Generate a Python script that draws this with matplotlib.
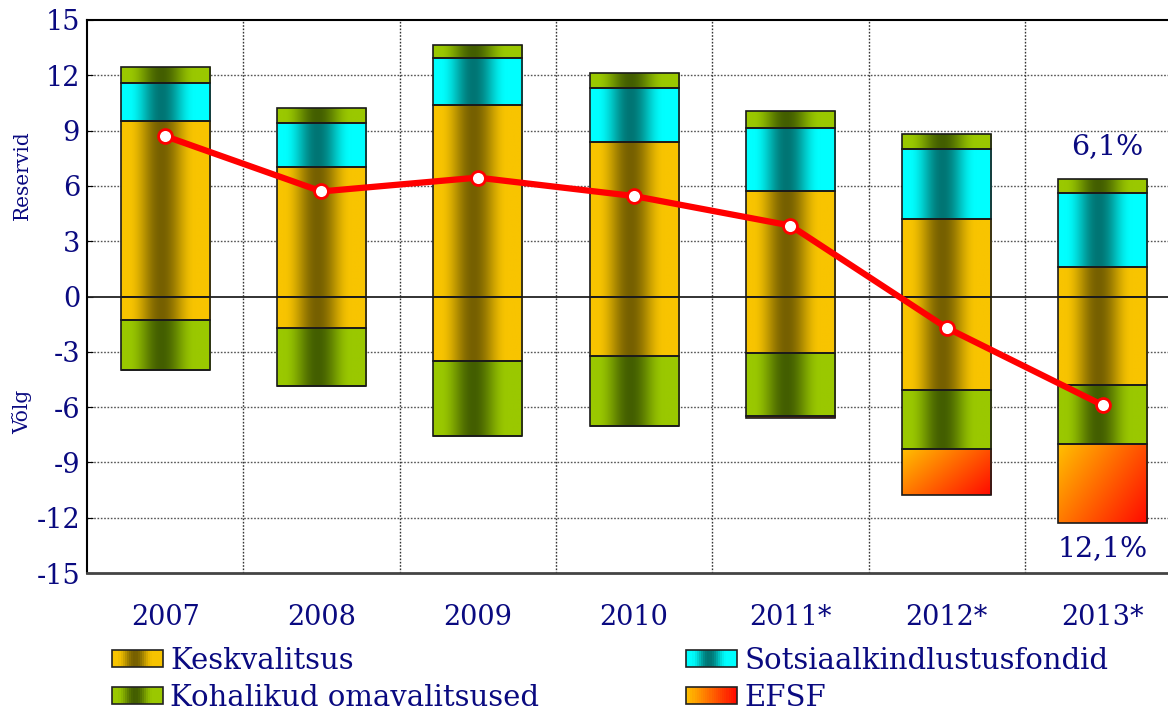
import numpy as np
import matplotlib
matplotlib.use("Agg")
import matplotlib.pyplot as plt
from matplotlib.patches import Rectangle
from matplotlib.legend_handler import HandlerBase
from matplotlib.colors import to_rgb

plt.rcParams['font.family'] = ['DejaVu Serif']

years = ["2007", "2008", "2009", "2010", "2011*", "2012*", "2013*"]
kesk_pos = [9.5, 7.05, 10.4, 8.4, 5.75, 4.2, 1.6]
sots = [2.1, 2.35, 2.55, 2.9, 3.4, 3.8, 4.0]
koh_pos = [0.85, 0.8, 0.7, 0.85, 0.9, 0.8, 0.8]
kesk_neg = [-1.3, -1.7, -3.5, -3.25, -3.05, -5.05, -4.8]
koh_neg = [-2.7, -3.15, -4.05, -3.8, -3.45, -3.2, -3.2]
efsf = [0, 0, 0, 0, -0.1, -2.5, -4.3]
balance = [8.7, 5.7, 6.45, 5.45, 3.85, -1.7, -5.9]
yticks = [15, 12, 9, 6, 3, 0, -3, -6, -9, -12, -15]
labels = ["Keskvalitsus", "Kohalikud omavalitsused", "Sotsiaalkindlustusfondid", "EFSF"]

NAVY = "#0a0a80"
pal = {
    "kesk": ("#f8c400", "#766000"),
    "koh": ("#9ac800", "#435e00"),
    "sots": ("#00ffff", "#007574"),
}

def hgrad(bright, dark, n=64):
    u = np.linspace(0, 1, n)
    d = 0.5 * (1 + np.cos(np.clip((u - 0.45) / 0.38, -1, 1) * np.pi))
    b = np.array(to_rgb(bright)); k = np.array(to_rgb(dark))
    return (b[None, :] * (1 - d[:, None]) + k[None, :] * d[:, None])[None, :, :]

def efsf_grad(n=48):
    u = np.linspace(0, 1, n)
    X, Y = np.meshgrid(u, u)
    t = np.clip(0.62 * X + 0.38 * Y, 0, 1)
    a = np.array(to_rgb("#ffc000")); b = np.array(to_rgb("#ff0a00"))
    return a[None, None, :] * (1 - t[..., None]) + b[None, None, :] * t[..., None]

W, H = 1168, 712
fig = plt.figure(figsize=(W / 100, H / 100), dpi=100)
ax_left = 87 / W
ax_bottom = (H - 573) / H
ax_top = (H - 20) / H
ax = fig.add_axes([ax_left, ax_bottom, 1 - ax_left, ax_top - ax_bottom])
cat_w = 156.3
XLIM = (-0.5, -0.5 + (W - 87) / cat_w)

x = np.arange(len(years))
bw = 0.57

def grad_bars(bottoms, heights, kind):
    bars = ax.bar(x, heights, bw, bottom=bottoms, facecolor="none",
                  edgecolor="#1a1a1a", linewidth=1.2, zorder=4)
    for b in bars:
        h = b.get_height()
        if abs(h) < 1e-9:
            continue
        x0 = b.get_x(); x1 = x0 + b.get_width()
        y0 = b.get_y(); y1 = y0 + h
        lo, hi = min(y0, y1), max(y0, y1)
        if kind == "efsf":
            im = ax.imshow(efsf_grad(), extent=(x0, x1, lo, hi), aspect="auto",
                           origin="upper", zorder=3, interpolation="bilinear")
        else:
            im = ax.imshow(hgrad(*pal[kind]), extent=(x0, x1, lo, hi),
                           aspect="auto", zorder=3, interpolation="bilinear")
        im.set_clip_path(b)
    return bars

zeros = np.zeros(len(x))
kp = np.array(kesk_pos); sp = np.array(sots); hp = np.array(koh_pos)
kn = np.array(kesk_neg); hn = np.array(koh_neg); ef = np.array(efsf)
grad_bars(zeros, kp, "kesk")
grad_bars(kp, sp, "sots")
grad_bars(kp + sp, hp, "koh")
grad_bars(zeros, kn, "kesk")
grad_bars(kn, hn, "koh")
grad_bars(kn + hn, ef, "efsf")
ax.set_xlim(*XLIM)
ax.set_ylim(-15, 15)

ax.plot(x, balance, color="#ff0000", linewidth=4.5, zorder=6,
        marker="o", markersize=10, markerfacecolor="white",
        markeredgecolor="#ff0000", markeredgewidth=2)

for yv in yticks:
    if yv in (15, -15):
        continue
    if yv == 0:
        ax.axhline(0, color="#222222", linewidth=1.3, zorder=2)
    else:
        ax.axhline(yv, color="#555555", linewidth=1.0, linestyle=(0, (1.2, 1.2)), zorder=1)
for xv in np.arange(0.5, 6.6, 1.0):
    ax.axvline(xv, color="#333333", linewidth=1.0, linestyle=(0, (1.2, 1.2)), zorder=1)

ax.spines["right"].set_visible(False)
ax.spines["top"].set_linewidth(1.5)
ax.spines["left"].set_linewidth(1.5)
ax.spines["bottom"].set_linewidth(2.0)
ax.spines["bottom"].set_color("#444444")

ax.set_yticks(yticks)
ax.set_yticklabels([str(v) for v in yticks], fontsize=19.5, color=NAVY)
ax.set_xticks(x)
ax.set_xticklabels(years, fontsize=19.5, color=NAVY)
ax.tick_params(axis="y", direction="in", length=4, pad=5)
ax.tick_params(axis="x", length=0, pad=22)

fig.text(22 / W, (H - 175) / H, "Reservid", rotation=90, fontsize=14.5,
         color=NAVY, ha="center", va="center")
fig.text(22 / W, (H - 412) / H, "Võlg", rotation=90, fontsize=14.5,
         color=NAVY, ha="center", va="center")

ax.text(6.03, 8.15, "6,1%", fontsize=20.5, color=NAVY, ha="center", va="center", zorder=7)
ax.text(6.0, -13.65, "12,1%", fontsize=20.5, color=NAVY, ha="center", va="center", zorder=7)

class GradHandler(HandlerBase):
    def __init__(self, kind):
        super().__init__()
        self.kind = kind
    def create_artists(self, legend, orig_handle, xdescent, ydescent,
                       width, height, fontsize, trans):
        arts = []
        n = 24
        if self.kind == "efsf":
            a = np.array(to_rgb("#ffc000")); b = np.array(to_rgb("#ff0a00"))
            cols = [a * (1 - t) + b * t for t in np.linspace(0, 1, n)]
        else:
            cols = hgrad(*pal[self.kind], n=n)[0]
        for i in range(n):
            r = Rectangle((-xdescent + width * i / n, -ydescent), width / n + 0.3, height,
                          facecolor=cols[i], edgecolor="none", transform=trans)
            arts.append(r)
        arts.append(Rectangle((-xdescent, -ydescent), width, height, facecolor="none",
                              edgecolor="#222222", linewidth=1.2, transform=trans))
        return arts

h_k = Rectangle((0, 0), 1, 1); h_h = Rectangle((0, 0), 1, 1)
h_s = Rectangle((0, 0), 1, 1); h_e = Rectangle((0, 0), 1, 1)
common = dict(frameon=False, fontsize=21, labelcolor=NAVY, handlelength=1.75,
              handleheight=0.55, handletextpad=0.25, labelspacing=0.32,
              borderpad=0, borderaxespad=0, loc="lower left")
leg1 = fig.legend([h_k, h_h], [labels[0], labels[1]],
                  handler_map={h_k: GradHandler("kesk"), h_h: GradHandler("koh")},
                  bbox_to_anchor=(112 / W, 0 / H), **common)
leg2 = fig.legend([h_s, h_e], [labels[2], labels[3]],
                  handler_map={h_s: GradHandler("sots"), h_e: GradHandler("efsf")},
                  bbox_to_anchor=(686 / W, 0 / H), **common)

fig.savefig("out.png", dpi=100)
